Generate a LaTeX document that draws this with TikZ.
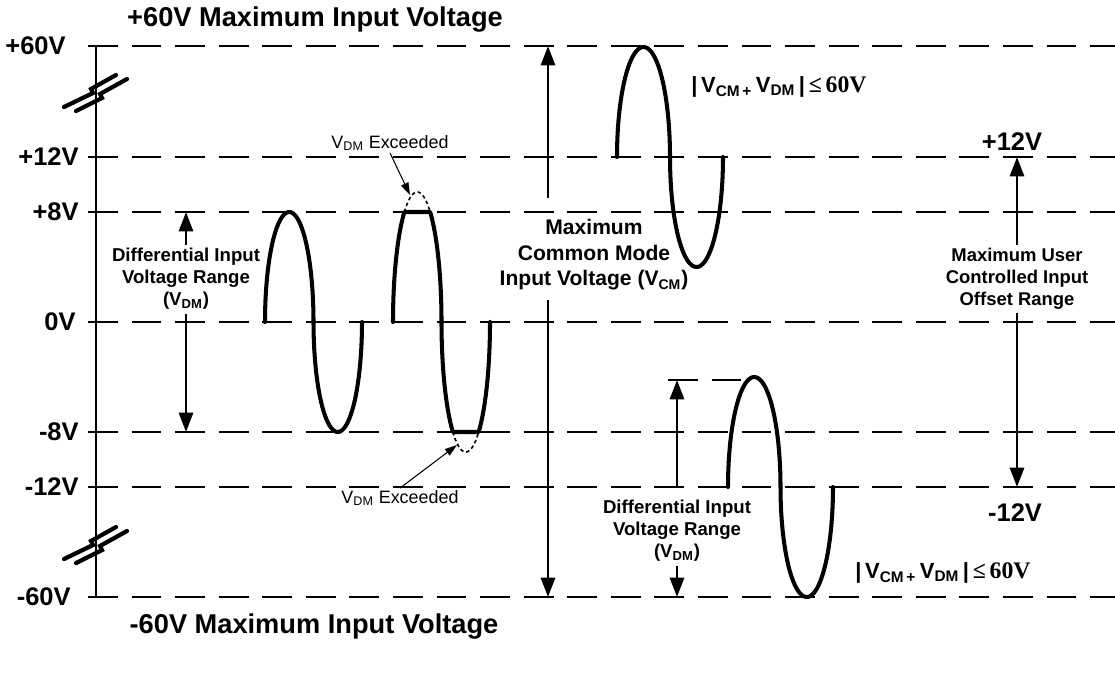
\documentclass[tikz,border=0pt]{standalone}
\usepackage{fontspec}
\setmainfont{Liberation Sans}
\newfontfamily\timesfont{Liberation Serif}
\usetikzlibrary{arrows.meta,positioning}

\newcommand{\vsumlimit}{\textbf{|\,V\textsubscript{CM\,+}\,V\textsubscript{DM}\,|}\,{\timesfont\bfseries\fontsize{13.5}{14}\selectfont ≤\,60V}}

\begin{document}
\begin{tikzpicture}[x=0.02cm,y=-0.02cm,
    level line/.style={line width=1.1pt,dash pattern=on 17pt off 7.8pt},
    wave/.style={line width=2.3pt,line join=round,line cap=round},
    bump/.style={line width=0.9pt,dash pattern=on 2pt off 1.6pt},
    brk/.style={line width=2.4pt,line cap=round},
    range arrow/.style={line width=1.6pt,-{Triangle[length=11pt,width=8pt]}},
    note arrow/.style={line width=0.6pt,-{Triangle[length=7pt,width=4.5pt]}},
    level label/.style={font=\bfseries\fontsize{14.5}{17}\selectfont,inner sep=0pt},
    title label/.style={font=\bfseries\fontsize{15.5}{18}\selectfont,inner sep=0pt},
    range text/.style={align=center,font=\bfseries\fontsize{10.6}{12.5}\selectfont,inner sep=2pt},
    note text/.style={font=\fontsize{10.2}{12}\selectfont,inner sep=1pt},
    sum text/.style={font=\fontsize{12.5}{14}\selectfont,inner sep=0pt}]

    \useasboundingbox (0,0) rectangle (1115,698);

    % voltage levels
    \foreach \y/\n in {46/p60,157/p12,212/p8,322/z,432/m8,487/m12,597/m60}{
        \coordinate (L\n) at (88,\y);
        \coordinate (R\n) at (1115,\y);
        \draw[level line] (L\n) -- (R\n);
    }

    % axis with breaks
    \coordinate (atop) at (96,46);
    \coordinate (abot) at (96,597);
    \draw[line width=1.3pt] (atop) -- (abot);
    \foreach \d in {0,452}{
        \draw[brk] (64,107+\d) -- (93,93+\d) -- (91,89+\d) -- (116,75+\d);
        \draw[brk] (76,111+\d) -- (102,98+\d) -- (100,94+\d) -- (127,79+\d);
    }

    \node[level label,anchor=east] (v1) at (66,46) {+60V};
    \node[level label,anchor=east] (v2) at (79,157) {+12V};
    \node[level label,anchor=east] (v3) at (79,212) {+8V};
    \node[level label,anchor=east] (v4) at (76,322) {0V};
    \node[level label,anchor=east] (v5) at (79,432) {-8V};
    \node[level label,anchor=east] (v6) at (79,487) {-12V};
    \node[level label,anchor=east] (v7) at (71,597) {-60V};

    \node[title label] (t1) at (315,20) {+60V Maximum Input Voltage};
    \node[title label] (t2) at (314,627) {-60V Maximum Input Voltage};

    % waves (half ellipses)
    \draw[wave] plot[domain=0:180,samples=60] ({265+24.25*(1-cos(\x))},{322-110*sin(\x)})
        -- plot[domain=0:180,samples=60] ({313.5+24.25*(1-cos(\x))},{322+110*sin(\x)});
    \draw[wave] plot[domain=0:180,samples=121] ({393+24.25*(1-cos(\x))},{322-min(110,130*sin(\x))})
        -- plot[domain=0:180,samples=121] ({441.5+24.25*(1-cos(\x))},{322+min(110,130*sin(\x))});
    \draw[bump] plot[domain=57.8:122.2,samples=30] ({393+24.25*(1-cos(\x))},{322-130*sin(\x)});
    \draw[bump] plot[domain=57.8:122.2,samples=30] ({441.5+24.25*(1-cos(\x))},{322+130*sin(\x)});
    \draw[wave] plot[domain=0:180,samples=60] ({617+26.5*(1-cos(\x))},{157-110*sin(\x)})
        -- plot[domain=0:180,samples=60] ({670+26.5*(1-cos(\x))},{157+110*sin(\x)});
    \draw[wave] plot[domain=0:180,samples=60] ({728+26.25*(1-cos(\x))},{487-110*sin(\x)})
        -- plot[domain=0:180,samples=60] ({780.5+26.25*(1-cos(\x))},{487+110*sin(\x)});

    \coordinate (dstart) at (668,380);
    \coordinate (pk) at (754,380);
    \draw[level line] (dstart) -- (pk);

    % exceeded notes
    \node[note text] (ex1) at (390,143) {V\textsubscript{DM} Exceeded};
    \node[note text] (ex2) at (400,498) {V\textsubscript{DM} Exceeded};
    \coordinate (tip1) at (410,195);
    \coordinate (tip2) at (457,445);
    \path[note arrow]
        (ex1.south) edge (tip1)
        (ex2.north) edge (tip2);

    % ranges
    \node[range text] (dl) at (186,279) {Differential Input\\Voltage Range\\(V\textsubscript{DM})};
    \node[range text,font=\bfseries\fontsize{12}{14.5}\selectfont] (cm) at (594,255) {Maximum\\Common Mode\\Input Voltage (V\textsubscript{CM})};
    \node[range text,font=\bfseries\fontsize{10.5}{12.5}\selectfont] (ur) at (1017,279) {Maximum User\\Controlled Input\\Offset Range};
    \node[range text] (dr) at (677,531) {Differential Input\\Voltage Range\\(V\textsubscript{DM})};
    \coordinate (cmtop) at (548,198);
    \coordinate (cmbot) at (548,300);

    \path[range arrow]
        (dl.north) edge (dl.north |- Lp8)
        (dl.south) edge (dl.south |- Lm8)
        (cmtop) edge (cmtop |- Lp60)
        (cmbot) edge (cmbot |- Lm60)
        (ur.north) edge (ur.north |- Rp12)
        (ur.south) edge (ur.south |- Rm12)
        (dr |- Rm12) edge (dr |- pk)
        (dr.south) edge (dr.south |- Rm60);

    \node[level label] (u12) at (1012,142) {+12V};
    \node[level label] (l12) at (1015,513) {-12V};

    \node[sum text] (s1) at (779,87) {\vsumlimit};
    \node[sum text] (s2) at (943,573) {\vsumlimit};
\end{tikzpicture}
\end{document}
